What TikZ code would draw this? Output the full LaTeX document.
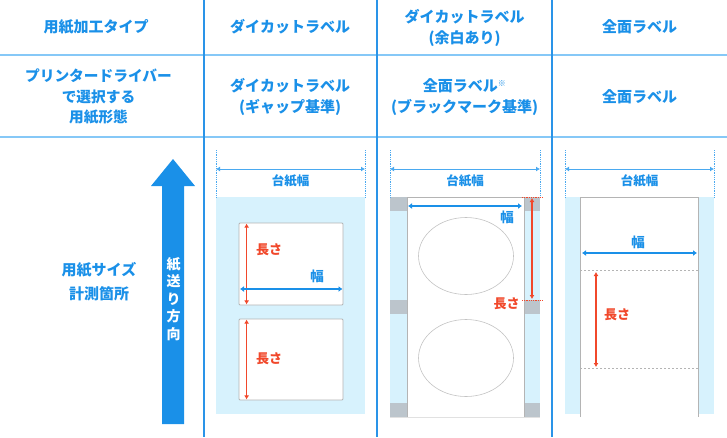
\documentclass[tikz,border=0pt]{standalone}
\usepackage{fontspec}
\setmainfont{Noto Sans CJK JP}
\usetikzlibrary{arrows.meta,shapes.geometric}
\definecolor{tblue}{HTML}{1A90E8}
\definecolor{vline}{HTML}{2A94E8}
\definecolor{hline}{HTML}{86C8F7}
\definecolor{dimblue}{HTML}{4AA9F0}
\definecolor{fillblue}{HTML}{D7F2FD}
\definecolor{markgray}{HTML}{BCC5CC}
\definecolor{papergray}{HTML}{B4B4B4}
\definecolor{lred}{HTML}{F1482B}
\tikzset{
  hd/.style={text=tblue,font=\bfseries\fontsize{15}{21}\selectfont,align=center,inner sep=0pt},
  sm/.style={text=tblue,font=\bfseries\fontsize{12.5}{14}\selectfont,inner sep=0pt},
  rd/.style={text=lred,font=\bfseries\fontsize{13}{14}\selectfont,inner sep=0pt},
  dotv/.style={dimblue,densely dotted,line width=0.8pt},
  dimarr/.style={dimblue,line width=1pt,{Latex[length=4pt,width=5pt]}-{Latex[length=4pt,width=5pt]}},
  warr/.style={tblue,line width=2pt,{Latex[length=4pt,width=6pt]}-{Latex[length=4pt,width=6pt]}},
  larr/.style={lred,line width=1.6pt,{Latex[length=4pt,width=5pt]}-{Latex[length=4pt,width=5pt]}},
  paper/.style={papergray,line width=0.8pt},
  labelbox/.style={draw=papergray,fill=white,line width=0.8pt,rounded corners=1pt},
  holeel/.style={draw=papergray!80,line width=0.6pt,ellipse,minimum width=95pt,minimum height=77pt,inner sep=0pt},
}
\begin{document}
\begin{tikzpicture}[x=1pt,y=-1pt]
\useasboundingbox (0,0) rectangle (727,437);
% grid lines
\draw[hline,line width=2pt] (0,55) -- (727,55);
\draw[hline,line width=2pt] (0,137) -- (727,137);
\foreach \xx in {204,377,552} \draw[vline,line width=1.2pt] (\xx,0) -- (\xx,437);
% header row
\node[hd] (h1) at (96,27) {用紙加工タイプ};
\node[hd] (h2) at (290,27) {ダイカットラベル};
\node[hd] (h3) at (464.5,27.5) {ダイカットラベル\\(余白あり)};
\node[hd] (h4) at (639.5,27) {全面ラベル};
% second row
\node[hd,font=\bfseries\fontsize{14.7}{20.5}\selectfont] (d1) at (98.5,97) {プリンタードライバー\\で選択する\\用紙形態};
\node[hd] (d2) at (290,97) {ダイカットラベル\\(ギャップ基準)};
\node[hd] (d3) at (464.5,97) {全面ラベル\textsuperscript{\fontsize{8}{8}\selectfont ※}\\(ブラックマーク基準)};
\node[hd] (d4) at (639.5,97) {全面ラベル};
% third row label
\node[hd,font=\bfseries\fontsize{15}{23.5}\selectfont] (m1) at (99,281.5) {用紙サイズ\\計測箇所};
% feed arrow
\coordinate (ftip) at (173,159);
\fill[tblue] (ftip) -- (195,186) -- (184,186) -- (184,424) -- (162,424) -- (162,186) -- (151,186) -- cycle;
\node[text=white,font=\bfseries\fontsize{14}{17.5}\selectfont,align=center,inner sep=0pt] (feed) at (173.5,299) {紙\\送\\り\\方\\向};

% ===== column 2 =====
\fill[fillblue] (216,197) rectangle (365,414);
\coordinate (c2l) at (216,169); \coordinate (c2r) at (365,169);
\draw[dotv] (216,150) -- (216,197);
\draw[dotv] (365,150) -- (365,197);
\draw[dimarr] (c2l) -- (c2r);
\node[sm] (c2w) at (290.5,181) {台紙幅};
\node[labelbox,minimum width=104pt,minimum height=82pt,inner sep=0pt] (lab1) at (291,264) {};
\node[labelbox,minimum width=104pt,minimum height=81pt,inner sep=0pt] (lab2) at (291,359.5) {};
\draw[larr] ([xshift=8pt,yshift=-1pt]lab1.north west) -- ([xshift=8pt,yshift=1pt]lab1.south west);
\draw[larr] ([xshift=8pt,yshift=-1pt]lab2.north west) -- ([xshift=8pt,yshift=1pt]lab2.south west);
\draw[warr] (240,289) -- (342.5,289);
\node[rd] (l2a) at (269,250) {長さ};
\node[rd] (l2b) at (269,359) {長さ};
\node[sm,font=\bfseries\fontsize{13.5}{14}\selectfont] (w2) at (317,276) {幅};

% ===== column 3 =====
\fill[fillblue] (390,197) rectangle (407,417);
\fill[fillblue] (524,197) rectangle (540,417);
\foreach \yy in {197,300,403} {
  \fill[markgray] (390,\yy) rectangle (407,\yy+14);
  \fill[markgray] (524,\yy) rectangle (540,\yy+14);
}
\draw[paper] (407,417) -- (407,197) -- (524,197) -- (524,417);
\draw[papergray!40,line width=0.6pt] (390,417) -- (540,417);
\draw[dotv] (390,150) -- (390,197);
\draw[dotv] (540,150) -- (540,197);
\coordinate (c3l) at (390,169); \coordinate (c3r) at (540,169);
\draw[dimarr] (c3l) -- (c3r);
\node[sm] (c3w) at (465,181) {台紙幅};
\node[holeel] (e1) at (466,256) {};
\node[holeel] (e2) at (466,358) {};
\draw[warr] (408,206) -- (522,206);
\node[sm,font=\bfseries\fontsize{13.5}{14}\selectfont] (w3) at (507,217) {幅};
\draw[lred,densely dotted,line width=0.8pt] (522,197) -- (543,197);
\draw[lred,densely dotted,line width=0.8pt] (522,300) -- (543,300);
\draw[larr] (532,198) -- (532,299);
\node[rd] (l3) at (506.5,304) {長さ};

% ===== column 4 =====
\fill[fillblue] (565,197) rectangle (714,414);
\fill[white] (580,197) rectangle (698,417);
\draw[paper] (580,417) -- (580,197) -- (698,197) -- (698,417);
\draw[dotv] (565,150) -- (565,197);
\draw[dotv] (714,150) -- (714,197);
\coordinate (c4l) at (565,169); \coordinate (c4r) at (714,169);
\draw[dimarr] (c4l) -- (c4r);
\node[sm] (c4w) at (639.5,181) {台紙幅};
\draw[warr] (582,253) -- (697,253);
\node[sm,font=\bfseries\fontsize{13.5}{14}\selectfont] (w4) at (638,242) {幅};
\draw[papergray,dash pattern=on 2pt off 2pt,line width=0.8pt] (580,270) -- (698,270);
\draw[papergray,dash pattern=on 2pt off 2pt,line width=0.8pt] (580,368) -- (698,368);
\draw[larr] (596,272) -- (596,367);
\node[rd] (l4) at (617,315) {長さ};
\end{tikzpicture}
\end{document}
